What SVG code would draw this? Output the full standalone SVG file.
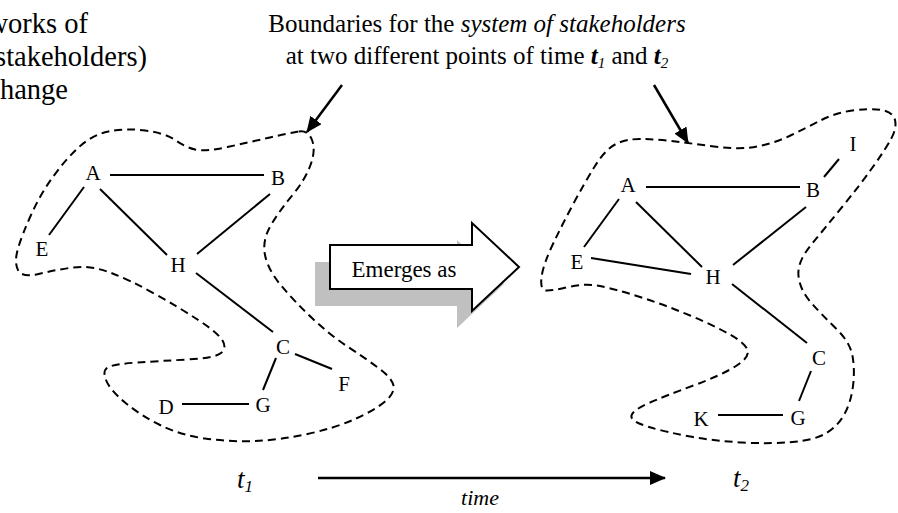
<svg xmlns="http://www.w3.org/2000/svg" width="898" height="513" viewBox="0 0 898 513">
  <style>
    text { font-family: "Liberation Serif", "DejaVu Serif", serif; fill: #000; }
    .hdr { font-size: 25px; }
    .node text { font-size: 21px; text-anchor: middle; }
    .edge { stroke: #000; stroke-width: 2; fill: none; }
    .bound { stroke: #000; stroke-width: 2; fill: none; stroke-dasharray: 8 5; }
    .ptr { stroke: #000; stroke-width: 2.5; fill: none; }
    .it { font-style: italic; }
  </style>
  <defs>
    <marker id="head-big" viewBox="0 0 16 14" refX="15" refY="7" markerWidth="16" markerHeight="14" orient="auto" markerUnits="userSpaceOnUse">
      <path d="M0,0 L16,7 L0,14 Z" fill="#000"/>
    </marker>
  </defs>

  <!-- captions -->
  <g id="caption-left" text-anchor="end" font-size="28.5">
    <text x="88" y="33">works of</text>
    <text x="147" y="66">stakeholders)</text>
    <text x="68" y="99">hange</text>
  </g>
  <g id="caption-right" class="hdr" text-anchor="middle">
    <text x="477" y="32">Boundaries for the <tspan class="it">system of stakeholders</tspan></text>
    <text x="477" y="64">at two different points of time <tspan class="it" font-weight="bold">t</tspan><tspan class="it" font-size="15" dy="4">1</tspan><tspan dy="-4"> and </tspan><tspan class="it" font-weight="bold">t</tspan><tspan class="it" font-size="15" dy="4">2</tspan></text>
  </g>

  <!-- boundaries of the stakeholder systems -->
  <g id="boundaries">
    <path id="boundary-t1" class="bound" d="M 299,131.5 Q 308,130 312,140 Q 316,150 310.5,165 Q 305,180 292.5,195 Q 280,210 271,225 Q 262,240 265,255 Q 268,270 281.5,286 Q 295,302 312.5,318.5 Q 330,335 347.5,346.5 Q 365,358 378.5,368 Q 392,378 393.5,385.5 Q 395,393 385,401.5 Q 375,410 355,419 Q 335,428 307.5,434 Q 280,440 255,441 Q 230,442 205,438.5 Q 180,435 160,425 Q 140,415 125,402.5 Q 110,390 106,380 Q 102,370 108.5,367 Q 115,364 137.5,362.5 Q 160,361 187.5,359.5 Q 215,358 221,353 Q 227,348 222.5,340.5 Q 218,333 199,320.5 Q 180,308 155,294 Q 130,280 110,272.5 Q 90,265 72.5,267.5 Q 55,270 38.5,274 Q 22,278 18,270 Q 14,262 18,248.5 Q 22,235 31,215 Q 40,195 52.5,177.5 Q 65,160 78.5,147.5 Q 92,135 108.5,131.5 Q 125,128 145,130.5 Q 165,133 175,140 Q 185,147 195,149.5 Q 205,152 227.5,147 Q 250,142 270,137.5 Q 290,133 299,131.5 Z"/>
    <path id="boundary-t2" class="bound" d="M 671.5,141 Q 688,143 714,146.5 Q 740,150 757.5,146.5 Q 775,143 791.5,135 Q 808,127 821.5,120 Q 835,113 852.5,110.5 Q 870,108 881.5,110 Q 893,112 895,120 Q 897,128 891,139 Q 885,150 872.5,167.5 Q 860,185 842.5,206.5 Q 825,228 811,245 Q 797,262 798.5,276 Q 800,290 811,302.5 Q 822,315 836,328.5 Q 850,342 852.5,356 Q 855,370 853,386 Q 851,402 844.5,414 Q 838,426 826.5,433 Q 815,440 792.5,442 Q 770,444 742.5,442.5 Q 715,441 690,436.5 Q 665,432 647.5,426.5 Q 630,421 631.5,415.5 Q 633,410 649,403 Q 665,396 693.5,385.5 Q 722,375 736,366 Q 750,357 747.5,350 Q 745,343 730,334.5 Q 715,326 690,315.5 Q 665,305 640,297 Q 615,289 600,286 Q 585,283 568.5,287 Q 552,291 546,290.5 Q 540,290 541.5,277.5 Q 543,265 552.5,245 Q 562,225 573.5,203.5 Q 585,182 595,166 Q 605,150 615,144.5 Q 625,139 640,139 Q 655,139 671.5,141 Z"/>
  </g>

  <!-- connectors -->
  <g id="connectors">
    <!-- network at t1 -->
    <line class="edge" x1="110" y1="175" x2="264" y2="175"/>
    <line class="edge" x1="84" y1="187" x2="49" y2="235"/>
    <line class="edge" x1="100" y1="189" x2="167" y2="255"/>
    <line class="edge" x1="270" y1="194" x2="197" y2="254"/>
    <line class="edge" x1="196" y1="273" x2="273" y2="332"/>
    <line class="edge" x1="295" y1="354" x2="332" y2="369"/>
    <line class="edge" x1="276" y1="358" x2="263" y2="390"/>
    <line class="edge" x1="182" y1="404" x2="249" y2="404"/>
    <!-- network at t2 -->
    <line class="edge" x1="646" y1="187" x2="800" y2="187"/>
    <line class="edge" x1="824" y1="177" x2="839" y2="159"/>
    <line class="edge" x1="619" y1="199" x2="584" y2="247"/>
    <line class="edge" x1="636" y1="202" x2="702" y2="267"/>
    <line class="edge" x1="591" y1="258" x2="691" y2="274"/>
    <line class="edge" x1="806" y1="207" x2="733" y2="265"/>
    <line class="edge" x1="732" y1="284" x2="807" y2="343"/>
    <line class="edge" x1="811" y1="371" x2="799" y2="401"/>
    <line class="edge" x1="718" y1="415" x2="783" y2="415"/>
    <!-- pointers from the caption to the boundaries -->
    <line class="ptr" x1="342" y1="85" x2="307" y2="132" marker-end="url(#head-big)"/>
    <line class="ptr" x1="654" y1="85" x2="688" y2="143" marker-end="url(#head-big)"/>
    <!-- time axis -->
    <line class="ptr" x1="318" y1="478" x2="665" y2="478" stroke-width="3" marker-end="url(#head-big)"/>
  </g>

  <!-- nodes at t1 -->
  <g id="t1-nodes">
    <g id="t1-A" class="node"><text x="93" y="180">A</text></g>
    <g id="t1-B" class="node"><text x="278" y="185">B</text></g>
    <g id="t1-E" class="node"><text x="42" y="256">E</text></g>
    <g id="t1-H" class="node"><text x="178" y="272">H</text></g>
    <g id="t1-C" class="node"><text x="283" y="354">C</text></g>
    <g id="t1-F" class="node"><text x="344" y="391">F</text></g>
    <g id="t1-G" class="node"><text x="263" y="412">G</text></g>
    <g id="t1-D" class="node"><text x="166" y="414">D</text></g>
  </g>

  <!-- nodes at t2 -->
  <g id="t2-nodes">
    <g id="t2-I" class="node"><text x="853" y="151">I</text></g>
    <g id="t2-A" class="node"><text x="628" y="192">A</text></g>
    <g id="t2-B" class="node"><text x="813" y="197">B</text></g>
    <g id="t2-E" class="node"><text x="577" y="269">E</text></g>
    <g id="t2-H" class="node"><text x="713" y="284">H</text></g>
    <g id="t2-C" class="node"><text x="819" y="365">C</text></g>
    <g id="t2-G" class="node"><text x="798" y="425">G</text></g>
    <g id="t2-K" class="node"><text x="701" y="426">K</text></g>
  </g>

  <!-- "Emerges as" block arrow with its drop shadow -->
  <g id="emerges">
    <polygon points="330,245 472,245 472,223 519,267 472,311 472,289 330,289" fill="#c0c0c0" transform="translate(-15,17)"/>
    <polygon points="330,245 472,245 472,223 519,267 472,311 472,289 330,289" fill="#fff" stroke="#000" stroke-width="2"/>
    <text x="404" y="277" font-size="23" text-anchor="middle">Emerges as</text>
  </g>

  <!-- time labels -->
  <g id="time-labels">
    <text x="237" y="488" font-size="27" class="it">t<tspan font-size="17" dy="4">1</tspan></text>
    <text x="733" y="487" font-size="27" class="it">t<tspan font-size="17" dy="4">2</tspan></text>
    <text x="480" y="505" font-size="22" class="it" text-anchor="middle">time</text>
  </g>
</svg>
